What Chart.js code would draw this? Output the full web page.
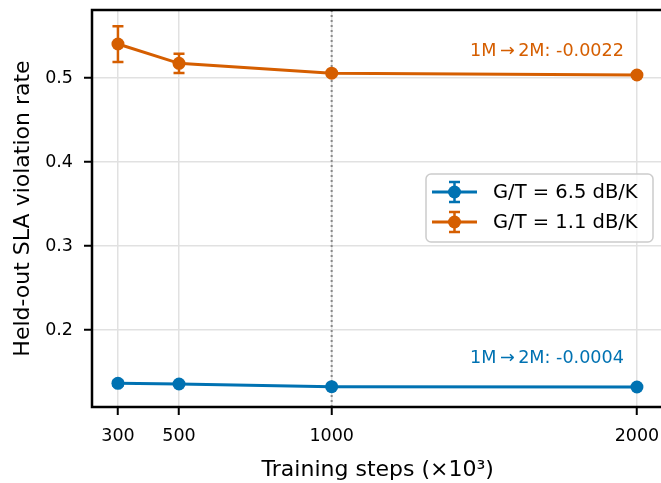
<!DOCTYPE html>
<html>
<head>
<meta charset="utf-8">
<script src="https://cdn.jsdelivr.net/npm/chart.js@4.4.1/dist/chart.umd.min.js"></script>
<style>
  html, body { margin: 0; padding: 0; background: #fff; overflow: hidden; }
</style>
</head>
<body>
<canvas id="c" width="670" height="483" style="display:block"></canvas>
<script>
// ---- data ----
const steps = [300, 500, 1000, 2000];
const xTicks = [300, 500, 1000, 2000];
const yTicks = [0.2, 0.3, 0.4, 0.5];
const seriesLabels = ['G/T = 6.5 dB/K', 'G/T = 1.1 dB/K'];
const highMean = [0.1365, 0.1357, 0.1325, 0.1321];
const highErr  = [0.003, 0.0015, 0.001, 0.001];
const lowMean  = [0.5405, 0.5175, 0.5058, 0.5036];
const lowErr   = [0.0213, 0.0115, 0.002, 0.002];
const annotTexts = ['1M\u2009\u2192\u20092M: -0.0004', '1M\u2009\u2192\u20092M: -0.0022'];
const markerStep = 1000;

const COLORS = ['#0072B2', '#D55E00'];
const FONT = '"DejaVu Sans", sans-serif';

function pts(m) { return steps.map((s, i) => ({ x: s, y: m[i] })); }
const errs = [highErr, lowErr];
const means = [highMean, lowMean];

const plugin = {
  id: 'extras',
  beforeDatasetsDraw(chart) {
    const { ctx, chartArea: a, scales: { x } } = chart;
    const px = x.getPixelForValue(markerStep);
    ctx.save();
    ctx.strokeStyle = '#888888';
    ctx.lineWidth = 2;
    ctx.setLineDash([2, 3]);
    ctx.beginPath();
    ctx.moveTo(px, a.top);
    ctx.lineTo(px, a.bottom);
    ctx.stroke();
    ctx.restore();
    ctx.save();
    ctx.lineWidth = 2.5;
    means.forEach((m, si) => {
      ctx.strokeStyle = COLORS[si];
      m.forEach((v, i) => {
        const e = errs[si][i];
        const cx = x.getPixelForValue(steps[i]);
        const y1 = chart.scales.y.getPixelForValue(v + e);
        const y2 = chart.scales.y.getPixelForValue(v - e);
        ctx.beginPath();
        ctx.moveTo(cx, y1); ctx.lineTo(cx, y2);
        ctx.moveTo(cx - 5.5, y1); ctx.lineTo(cx + 5.5, y1);
        ctx.moveTo(cx - 5.5, y2); ctx.lineTo(cx + 5.5, y2);
        ctx.stroke();
      });
    });
    ctx.restore();
  },
  afterDraw(chart) {
    const { ctx, chartArea: a, scales: { x, y } } = chart;
    ctx.save();
    ctx.strokeStyle = '#000';
    ctx.lineWidth = 2.5;
    ctx.strokeRect(a.left, a.top, a.right - a.left, a.bottom - a.top);
    ctx.restore();

    const offs = [24.5, 19];
    ctx.save();
    ctx.font = '17.6px ' + FONT;
    ctx.textAlign = 'right';
    ctx.textBaseline = 'alphabetic';
    means.forEach((m, si) => {
      const last = m[m.length - 1];
      ctx.fillStyle = COLORS[si];
      ctx.fillText(annotTexts[si], x.getPixelForValue(steps[steps.length - 1]) - 13,
        y.getPixelForValue(last) - offs[si]);
    });
    ctx.restore();

    const lx = 426, ly = 174, lw = 227, lh = 68;
    ctx.save();
    ctx.beginPath();
    if (ctx.roundRect) ctx.roundRect(lx, ly, lw, lh, 5); else ctx.rect(lx, ly, lw, lh);
    ctx.fillStyle = 'rgba(255,255,255,0.8)';
    ctx.fill();
    ctx.strokeStyle = '#cccccc';
    ctx.lineWidth = 1.5;
    ctx.stroke();
    seriesLabels.forEach((lab, si) => {
      const cy = 192 + si * 30;
      ctx.strokeStyle = COLORS[si];
      ctx.fillStyle = COLORS[si];
      ctx.lineWidth = 3;
      ctx.beginPath();
      ctx.moveTo(432, cy); ctx.lineTo(477, cy);
      ctx.stroke();
      ctx.lineWidth = 2.5;
      ctx.beginPath();
      ctx.moveTo(454.5, cy - 10); ctx.lineTo(454.5, cy + 10);
      ctx.moveTo(449, cy - 10); ctx.lineTo(460, cy - 10);
      ctx.moveTo(449, cy + 10); ctx.lineTo(460, cy + 10);
      ctx.stroke();
      ctx.beginPath();
      ctx.arc(454.5, cy, 6.5, 0, Math.PI * 2);
      ctx.fill();
      ctx.fillStyle = '#000';
      ctx.font = '19.5px ' + FONT;
      ctx.textAlign = 'left';
      ctx.textBaseline = 'middle';
      ctx.fillText(lab, 493, cy + 1);
    });
    ctx.restore();
  }
};

new Chart(document.getElementById('c'), {
  type: 'line',
  data: {
    datasets: [0, 1].map(si => ({
      label: seriesLabels[si],
      data: pts(means[si]),
      borderColor: COLORS[si],
      backgroundColor: COLORS[si],
      borderWidth: 3,
      pointRadius: 6.5,
      pointHoverRadius: 6.5,
      pointBorderWidth: 0,
      pointBackgroundColor: COLORS[si],
      tension: 0,
      fill: false,
      clip: false
    }))
  },
  options: {
    responsive: false,
    devicePixelRatio: 1,
    animation: false,
    events: [],
    layout: { padding: { top: 10, right: 0, left: 0, bottom: 0 } },
    plugins: { legend: { display: false }, tooltip: { enabled: false } },
    scales: {
      x: {
        type: 'linear',
        min: 215, max: 2087,
        afterBuildTicks(s) { s.ticks = xTicks.map(v => ({ value: v })); },
        afterFit(s) { s.height = 76; s.paddingLeft = 0; s.paddingRight = 0; },
        ticks: {
          color: '#000', font: { family: FONT, size: 17.5 }, padding: 11,
          maxRotation: 0, autoSkip: false,
          callback: v => String(v)
        },
        grid: { color: '#e1e1e1', lineWidth: 1.5, tickColor: '#000', tickLength: 8, tickWidth: 2 },
        border: { display: false },
        title: {
          display: true, text: 'Training steps (\u00d710\u00b3)', color: '#000',
          font: { family: FONT, size: 22 }, padding: { top: 0, bottom: 0 }
        }
      },
      y: {
        type: 'linear',
        min: 0.1083, max: 0.581,
        afterBuildTicks(s) { s.ticks = yTicks.map(v => ({ value: v })); },
        afterFit(s) { s.width = 92; s.paddingTop = 0; s.paddingBottom = 0; },
        ticks: {
          color: '#000', font: { family: FONT, size: 17.5 }, padding: 11,
          autoSkip: false,
          callback: v => v.toFixed(1)
        },
        grid: { color: '#e1e1e1', lineWidth: 1.5, tickColor: '#000', tickLength: 8, tickWidth: 2 },
        border: { display: false },
        title: {
          display: true, text: 'Held-out SLA violation rate', color: '#000',
          font: { family: FONT, size: 22 }, padding: { top: 10, bottom: 0 }
        }
      }
    }
  },
  plugins: [plugin]
});
</script>
</body>
</html>
